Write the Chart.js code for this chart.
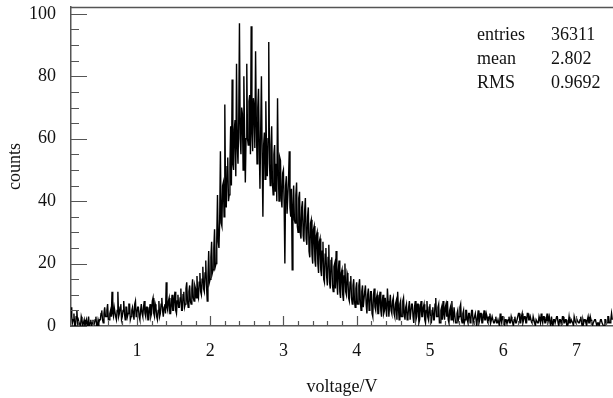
<!DOCTYPE html>
<html>
<head>
<meta charset="utf-8">
<script src="https://cdn.jsdelivr.net/npm/chart.js@4/dist/chart.umd.min.js"></script>
<style>
  html, body { margin: 0; padding: 0; background: #fff; }
  #wrap { position: relative; width: 613px; height: 398px; }
  canvas { display: block; }
  .stats { position: absolute; font-family: "Liberation Serif", "Times New Roman", serif; font-size: 18px; color: #111; line-height: 24px; }
</style>
</head>
<body>
<div id="wrap">
  <canvas id="c" width="613" height="398"></canvas>
  <div class="stats" id="statNames" style="left:477px; top:22px;"></div>
  <div class="stats" id="statValues" style="left:551px; top:22px;"></div>
</div>
<script>
// ---- data ----
const binStart = 0.10;     // first bin (V)
const binWidth = 0.01;     // bin width (V)
const counts = [
  6,3,1,2,4,0,0,3,5,1,2,1,1,0,3,2,0,1,2,0,
  1,2,0,1,3,0,1,2,0,1,2,0,1,2,3,0,0,2,1,2,
  2,4,5,2,1,4,6,3,3,5,7,2,2,4,5,3,11,4,3,6,
  6,3,2,5,11,3,4,6,7,2,3,5,8,4,2,6,6,3,4,7,
  7,2,3,5,6,4,2,7,8,3,4,6,6,3,2,5,7,4,3,6,
  8,4,3,6,6,2,2,5,7,3,4,8,9,4,3,7,6,3,2,5,
  8,3,4,7,9,5,3,6,7,4,14,6,5,8,9,4,4,7,10,5,
  5,9,11,5,4,8,10,6,6,9,12,5,5,10,11,6,7,12,14,8,
  6,11,13,8,7,12,15,9,8,13,12,9,16,10,9,14,17,11,10,15,
  19,12,11,17,21,13,8,16,24,14,15,22,27,17,18,25,31,19,20,28,
  42,27,25,34,56,33,32,45,46,35,71,41,38,51,54,40,42,52,64,45,
  79,52,50,63,66,48,84,58,52,66,97,60,55,70,68,50,80,62,46,60,
  84,60,58,72,74,55,96,62,56,73,70,57,88,66,52,70,76,58,44,63,
  80,54,35,58,62,47,72,55,48,60,91,52,45,58,64,46,42,55,58,43,
  52,40,73,50,40,54,53,41,38,49,50,39,20,45,48,36,36,47,56,38,
  35,44,18,38,45,34,33,42,46,32,30,41,43,30,28,38,40,29,27,37,
  41,28,26,35,38,24,22,33,34,23,20,31,32,21,19,29,30,20,17,27,
  28,18,16,24,27,15,14,23,25,16,13,22,26,14,12,21,22,13,11,19,
  20,12,24,15,10,18,21,11,9,17,18,10,8,16,20,11,10,17,16,9,
  8,14,16,9,7,13,15,8,6,12,14,7,7,13,15,8,5,11,13,6,
  6,11,13,7,4,10,12,5,6,11,11,4,3,10,12,6,5,9,10,4,
  4,9,11,5,3,8,10,4,5,9,9,3,12,8,3,7,10,5,4,8,
  9,4,3,7,8,2,11,6,2,7,8,3,3,8,9,4,2,6,7,2,
  3,6,8,2,2,7,7,3,1,6,8,2,3,7,7,1,2,6,8,3,
  3,6,7,2,1,5,8,3,2,6,7,1,1,5,6,2,2,7,9,3,
  3,6,7,1,1,5,6,2,8,4,2,6,7,3,8,2,1,5,6,2,
  8,3,2,6,6,1,1,4,5,2,3,6,7,2,1,4,5,1,2,5,
  5,2,1,4,4,1,2,5,5,1,1,3,4,2,0,3,5,1,2,4,
  4,1,1,3,5,2,2,4,3,1,1,3,4,1,2,3,3,1,1,2,
  3,1,1,2,2,0,4,2,1,3,3,1,0,2,2,1,1,2,3,1,
  1,3,2,1,0,2,3,1,1,2,2,4,4,1,1,3,4,1,2,3,
  3,1,1,4,4,2,2,3,3,1,1,3,3,1,0,2,2,1,1,3,
  2,1,4,2,1,3,3,1,1,2,4,1,2,3,1,0,3,1,0,2,
  2,1,1,3,3,1,0,2,2,1,1,3,3,1,1,2,2,0,0,1,
  3,1,1,2,2,1,0,3,3,1,1,2,2,1,1,2,3,1,0,2,
  1,2,2,1,0,2,3,1,1,3,2,0,0,1,1,2,2,1,0,1,
  1,0,0,2,2,1,1,0,0,2,2,1,1,3,3,1,1,2,4,2
];
const xRange = [0.1, 7.5];
const yRange = [0, 102.2];
const xMajorTicks = [1, 2, 3, 4, 5, 6, 7];
const yMajorTicks = [0, 20, 40, 60, 80, 100];
const xMinorStep = 0.2;
const yMinorStep = 5;
const statNames = ["entries", "mean", "RMS"];
const statValues = ["36311", "2.802", "0.9692"];
const xTitle = "voltage/V";
const yTitle = "counts";

document.getElementById('statNames').innerHTML = statNames.join('<br>');
document.getElementById('statValues').innerHTML = statValues.join('<br>');

const points = counts.map((c, i) => ({ x: binStart + i * binWidth, y: c }));

const AXIS = '#555';
const FONT = { family: '"Liberation Serif", "Times New Roman", serif', size: 18 };

const frameTicks = {
  id: 'frameTicks',
  afterDatasetsDraw(chart) {
    const { ctx, chartArea: a, scales: { x, y } } = chart;
    ctx.save();
    ctx.strokeStyle = AXIS;
    ctx.lineWidth = 1.2;
    ctx.beginPath();
    for (let v = yRange[0]; v <= yMajorTicks[yMajorTicks.length - 1] + 1e-9; v += yMinorStep) {
      const py = Math.round(y.getPixelForValue(v)) + 0.5;
      const len = yMajorTicks.includes(Math.round(v)) ? 16 : 8;
      ctx.moveTo(a.left, py); ctx.lineTo(a.left + len, py);
    }
    for (let k = 1; k * xMinorStep <= xRange[1]; k++) {
      const v = k * xMinorStep;
      if (v < xRange[0] - 1e-9) continue;
      const px = Math.round(x.getPixelForValue(v)) + 0.5;
      const major = xMajorTicks.some(t => Math.abs(t - v) < 1e-6);
      ctx.moveTo(px, a.bottom); ctx.lineTo(px, a.bottom - (major ? 10 : 5));
    }
    ctx.stroke();
    ctx.lineWidth = 1.5;
    ctx.beginPath();
    ctx.moveTo(a.left, a.top + 0.5); ctx.lineTo(a.right, a.top + 0.5);
    ctx.stroke();
    ctx.restore();
  }
};

new Chart(document.getElementById('c'), {
  type: 'line',
  data: {
    datasets: [{
      data: points,
      borderColor: '#000',
      borderWidth: 1.4,
      pointRadius: 0,
      fill: false,
      tension: 0
    }]
  },
  options: {
    responsive: false,
    animation: false,
    devicePixelRatio: 1,
    parsing: false,
    layout: { padding: { top: 7, left: 0, right: 0, bottom: 0 } },
    plugins: { legend: { display: false }, tooltip: { enabled: false } },
    scales: {
      x: {
        type: 'linear',
        min: xRange[0], max: xRange[1],
        afterBuildTicks: s => { s.ticks = xMajorTicks.map(v => ({ value: v })); },
        afterFit: s => { s.height = 72; s.paddingLeft = 0; s.paddingRight = 0; },
        grid: { display: false, drawTicks: false },
        border: { display: true, color: AXIS, width: 1.5 },
        ticks: { color: '#111', font: FONT, padding: 14, maxRotation: 0, autoSkip: false, callback: v => String(v) },
        title: { display: true, text: xTitle, color: '#111', font: FONT, padding: { top: 12, bottom: 0 } }
      },
      y: {
        type: 'linear',
        min: yRange[0], max: yRange[1],
        afterBuildTicks: s => { s.ticks = yMajorTicks.map(v => ({ value: v })); },
        afterFit: s => { s.width = 71; s.paddingTop = 0; s.paddingBottom = 0; },
        grid: { display: false, drawTicks: false },
        border: { display: true, color: AXIS, width: 1.5 },
        ticks: { color: '#111', font: FONT, padding: 15, callback: v => String(v) },
        title: { display: true, text: yTitle, color: '#111', font: FONT, padding: { top: 4, bottom: 0 } }
      }
    }
  },
  plugins: [frameTicks]
});
</script>
</body>
</html>
